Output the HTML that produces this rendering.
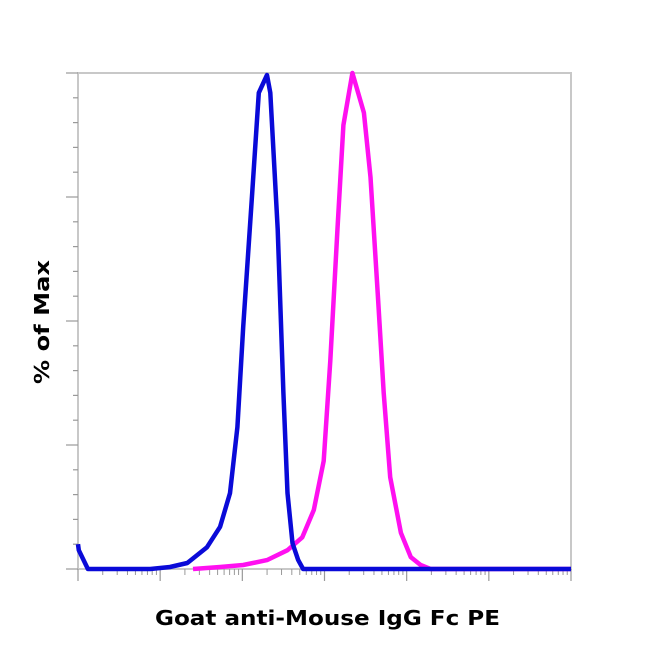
<!DOCTYPE html>
<html><head><meta charset="utf-8"><style>
html,body{margin:0;padding:0;background:#fff;width:650px;height:650px;overflow:hidden}
text{font-family:"DejaVu Sans","Liberation Sans",sans-serif;font-weight:bold;fill:#000}
</style></head><body>
<svg id="chart" width="650" height="650">
<rect x="78" y="73" width="493" height="496" fill="#fff" stroke="#c8c8c8" stroke-width="2"/>
<g id="ticks"></g>
<g id="series"></g>
<text x="155" y="625" font-size="20" textLength="345" lengthAdjust="spacingAndGlyphs">Goat anti-Mouse IgG Fc PE</text>
<text x="0" y="0" font-size="20" text-anchor="middle" textLength="124" lengthAdjust="spacingAndGlyphs" transform="translate(49,322) rotate(-90)">% of Max</text>
</svg>
<script>
const blueX=[0,0.01,0.12,0.88,1.12,1.33,1.57,1.73,1.85,1.94,2.01,2.12,2.20,2.30,2.34,2.43,2.50,2.55,2.61,2.68,2.74,6];
const blueY=[5,3.8,0,0,0.4,1.2,4.4,8.5,15.3,28.6,48.8,75.8,96,99.6,96,68.5,35.5,15.3,5.2,1.8,0,0];
const magX=[1.40,1.73,2.01,2.30,2.55,2.73,2.87,2.99,3.07,3.16,3.23,3.34,3.48,3.56,3.65,3.72,3.80,3.93,4.05,4.17,4.29,6];
const magY=[0,0.4,0.8,1.8,3.8,6.4,11.9,21.8,42,69,89.5,100,92,79,55,35.5,18.5,7.3,2.4,0.8,0,0];
const decades=[0,1,2,3,4,5,6];
const yTicks=[0,5,10,15,20,25,30,35,40,45,50,55,60,65,70,75,80,85,90,95,100];
const X0=78,X1=571,Y0=569,Y1=73;
const sx=d=>X0+d*(X1-X0)/6;
const sy=v=>Y0-v*(Y0-Y1)/100;
const NS="http://www.w3.org/2000/svg";
const tg=document.getElementById('ticks');
function line(x1,y1,x2,y2,c,w,name){const l=document.createElementNS(NS,'line');
l.setAttribute('x1',x1);l.setAttribute('y1',y1);l.setAttribute('x2',x2);l.setAttribute('y2',y2);
l.setAttribute('stroke',c);l.setAttribute('stroke-width',w);


tg.appendChild(l);}
yTicks.forEach((v,i)=>{const maj=i%5===0;line(X0-(maj?12:5),sy(v),X0,sy(v),'#999',1.2,'y-tick');});
decades.forEach((d,i)=>{line(sx(d),Y0,sx(d),Y0+12,'#999',1.2,'x-major-tick');
 if(i<6){for(let k=2;k<=9;k++){const x=sx(d+Math.log10(k));line(x,Y0,x,Y0+6,'#999',1,'x-minor-tick');}}});
const sg=document.getElementById('series');
function path(xs,ys,c,name){const p=document.createElementNS(NS,'path');
p.setAttribute('d',xs.map((x,i)=>(i?'L':'M')+sx(x).toFixed(1)+','+sy(ys[i]).toFixed(1)).join(''));
p.setAttribute('fill','none');p.setAttribute('stroke',c);p.setAttribute('stroke-width',4.5);p.setAttribute('stroke-linejoin','round');


sg.appendChild(p);}
path(magX,magY,'#ff10f0','magenta-histogram');
path(blueX,blueY,'#0a0ad8','blue-histogram');
</script>
</body></html>
